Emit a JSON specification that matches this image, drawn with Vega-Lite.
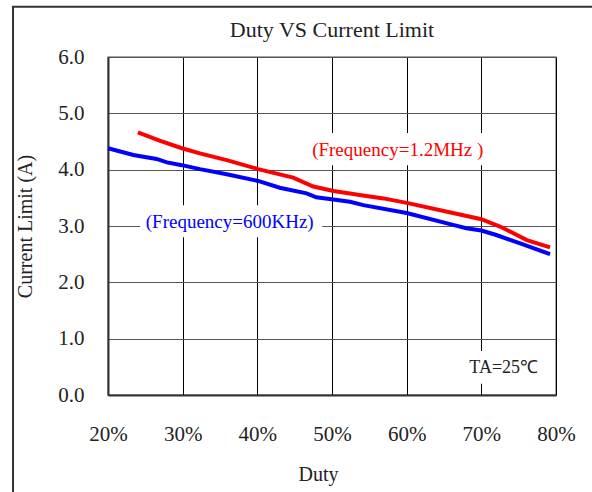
{
  "$schema": "https://vega.github.io/schema/vega-lite/v6.json",
  "width": 448,
  "height": 338,
  "autosize": "none",
  "padding": {"left": 108, "top": 57, "right": 36, "bottom": 97},
  "background": "white",
  "config": {
    "font": "Liberation Serif",
    "view": {"stroke": "#888888", "strokeWidth": 1.5},
    "axis": {"labelFont": "Liberation Serif", "titleFont": "Liberation Serif", "labelColor": "#222222", "titleColor": "#222222", "titleFontWeight": "normal", "ticks": false, "domainColor": "#333333", "domainWidth": 2, "gridOpacity": 1, "labelFlush": false}
  },
  "title": {"text": "Duty VS Current Limit", "font": "Liberation Serif", "fontSize": 22, "fontWeight": "normal", "color": "#222222", "anchor": "middle", "baseline": "alphabetic", "offset": 0, "dy": 53},
  "datasets": {
    "curves": [
      {"series": "1.2MHz", "duty": 24.0, "current": 4.66},
      {"series": "1.2MHz", "duty": 27.0, "current": 4.51},
      {"series": "1.2MHz", "duty": 29.9, "current": 4.38},
      {"series": "1.2MHz", "duty": 32.3, "current": 4.29},
      {"series": "1.2MHz", "duty": 35.9, "current": 4.17},
      {"series": "1.2MHz", "duty": 40.1, "current": 4.01},
      {"series": "1.2MHz", "duty": 44.8, "current": 3.86},
      {"series": "1.2MHz", "duty": 47.5, "current": 3.70},
      {"series": "1.2MHz", "duty": 50.2, "current": 3.62},
      {"series": "1.2MHz", "duty": 53.7, "current": 3.55},
      {"series": "1.2MHz", "duty": 56.9, "current": 3.49},
      {"series": "1.2MHz", "duty": 60.0, "current": 3.41},
      {"series": "1.2MHz", "duty": 66.2, "current": 3.23},
      {"series": "1.2MHz", "duty": 70.0, "current": 3.12},
      {"series": "1.2MHz", "duty": 72.5, "current": 2.99},
      {"series": "1.2MHz", "duty": 76.1, "current": 2.75},
      {"series": "1.2MHz", "duty": 79.2, "current": 2.62},
      {"series": "600KHz", "duty": 20.0, "current": 4.38},
      {"series": "600KHz", "duty": 23.4, "current": 4.26},
      {"series": "600KHz", "duty": 26.5, "current": 4.19},
      {"series": "600KHz", "duty": 27.9, "current": 4.13},
      {"series": "600KHz", "duty": 29.9, "current": 4.08},
      {"series": "600KHz", "duty": 32.3, "current": 4.01},
      {"series": "600KHz", "duty": 35.9, "current": 3.92},
      {"series": "600KHz", "duty": 40.1, "current": 3.80},
      {"series": "600KHz", "duty": 43.0, "current": 3.68},
      {"series": "600KHz", "duty": 46.6, "current": 3.58},
      {"series": "600KHz", "duty": 47.9, "current": 3.51},
      {"series": "600KHz", "duty": 50.2, "current": 3.47},
      {"series": "600KHz", "duty": 52.4, "current": 3.43},
      {"series": "600KHz", "duty": 54.2, "current": 3.37},
      {"series": "600KHz", "duty": 60.0, "current": 3.23},
      {"series": "600KHz", "duty": 66.2, "current": 3.02},
      {"series": "600KHz", "duty": 68.0, "current": 2.96},
      {"series": "600KHz", "duty": 70.0, "current": 2.92},
      {"series": "600KHz", "duty": 72.0, "current": 2.84},
      {"series": "600KHz", "duty": 75.2, "current": 2.69},
      {"series": "600KHz", "duty": 79.2, "current": 2.50}
    ],
    "notes": [
      {"series": "1.2MHz", "label": "(Frequency=1.2MHz )", "x": 58.8, "y": 4.35, "x1": 47.3, "x2": 70.2, "y1": 4.08, "y2": 4.65},
      {"series": "600KHz", "label": "(Frequency=600KHz)", "x": 36.3, "y": 3.07, "x1": 24.3, "x2": 48.7, "y1": 2.80, "y2": 3.37},
      {"series": "note", "label": "TA=25℃", "x": 73.0, "y": 0.48, "x1": 68.1, "x2": 78.0, "y1": 0.20, "y2": 0.78}
    ]
  },
  "layer": [
    {
      "data": {"name": "notes"},
      "mark": {"type": "rect", "fill": "white", "stroke": null},
      "encoding": {
        "x": {"field": "x1", "type": "quantitative", "scale": {"domain": [20, 80], "nice": false, "zero": false},
          "axis": {"values": [20, 30, 40, 50, 60, 70, 80], "grid": true, "gridColor": "#000000", "gridWidth": 1, "labelFontSize": 21, "labelPadding": 28, "labelExpr": "datum.value + '%'", "title": "Duty", "titleFontSize": 20, "titlePadding": 20, "titleX": 210}},
        "x2": {"field": "x2"},
        "y": {"field": "y1", "type": "quantitative", "scale": {"domain": [0, 6], "nice": false, "zero": true},
          "axis": {"values": [0, 1, 2, 3, 4, 5, 6], "grid": true, "gridColor": "#555555", "gridWidth": 1.2, "format": ".1f", "labelFontSize": 21, "labelPadding": 24, "title": "Current Limit (A)", "titleFontSize": 20, "titlePadding": 22}},
        "y2": {"field": "y2"}
      }
    },
    {
      "data": {"name": "curves"},
      "mark": {"type": "line", "strokeWidth": 4, "interpolate": "linear"},
      "encoding": {
        "x": {"field": "duty", "type": "quantitative"},
        "y": {"field": "current", "type": "quantitative"},
        "color": {"field": "series", "type": "nominal", "scale": {"domain": ["1.2MHz", "600KHz", "note"], "range": ["#ff0000", "#0000ff", "#222222"]}, "legend": null}
      }
    },
    {
      "data": {"name": "notes"},
      "mark": {"type": "text", "font": "Liberation Serif", "align": "center", "baseline": "middle"},
      "encoding": {
        "x": {"field": "x", "type": "quantitative"},
        "y": {"field": "y", "type": "quantitative"},
        "text": {"field": "label"},
        "size": {"condition": {"test": "datum.series === 'note'", "value": 18}, "value": 19},
        "color": {"field": "series", "type": "nominal", "legend": null}
      }
    },
    {
      "data": {"values": [{}]},
      "mark": {"type": "rect", "fill": null, "stroke": "#333333", "strokeWidth": 2, "clip": false},
      "encoding": {
        "x": {"datum": 7.28, "type": "quantitative"},
        "x2": {"datum": 90},
        "y": {"datum": 6.89, "type": "quantitative"},
        "y2": {"datum": -2.0}
      }
    }
  ]
}
